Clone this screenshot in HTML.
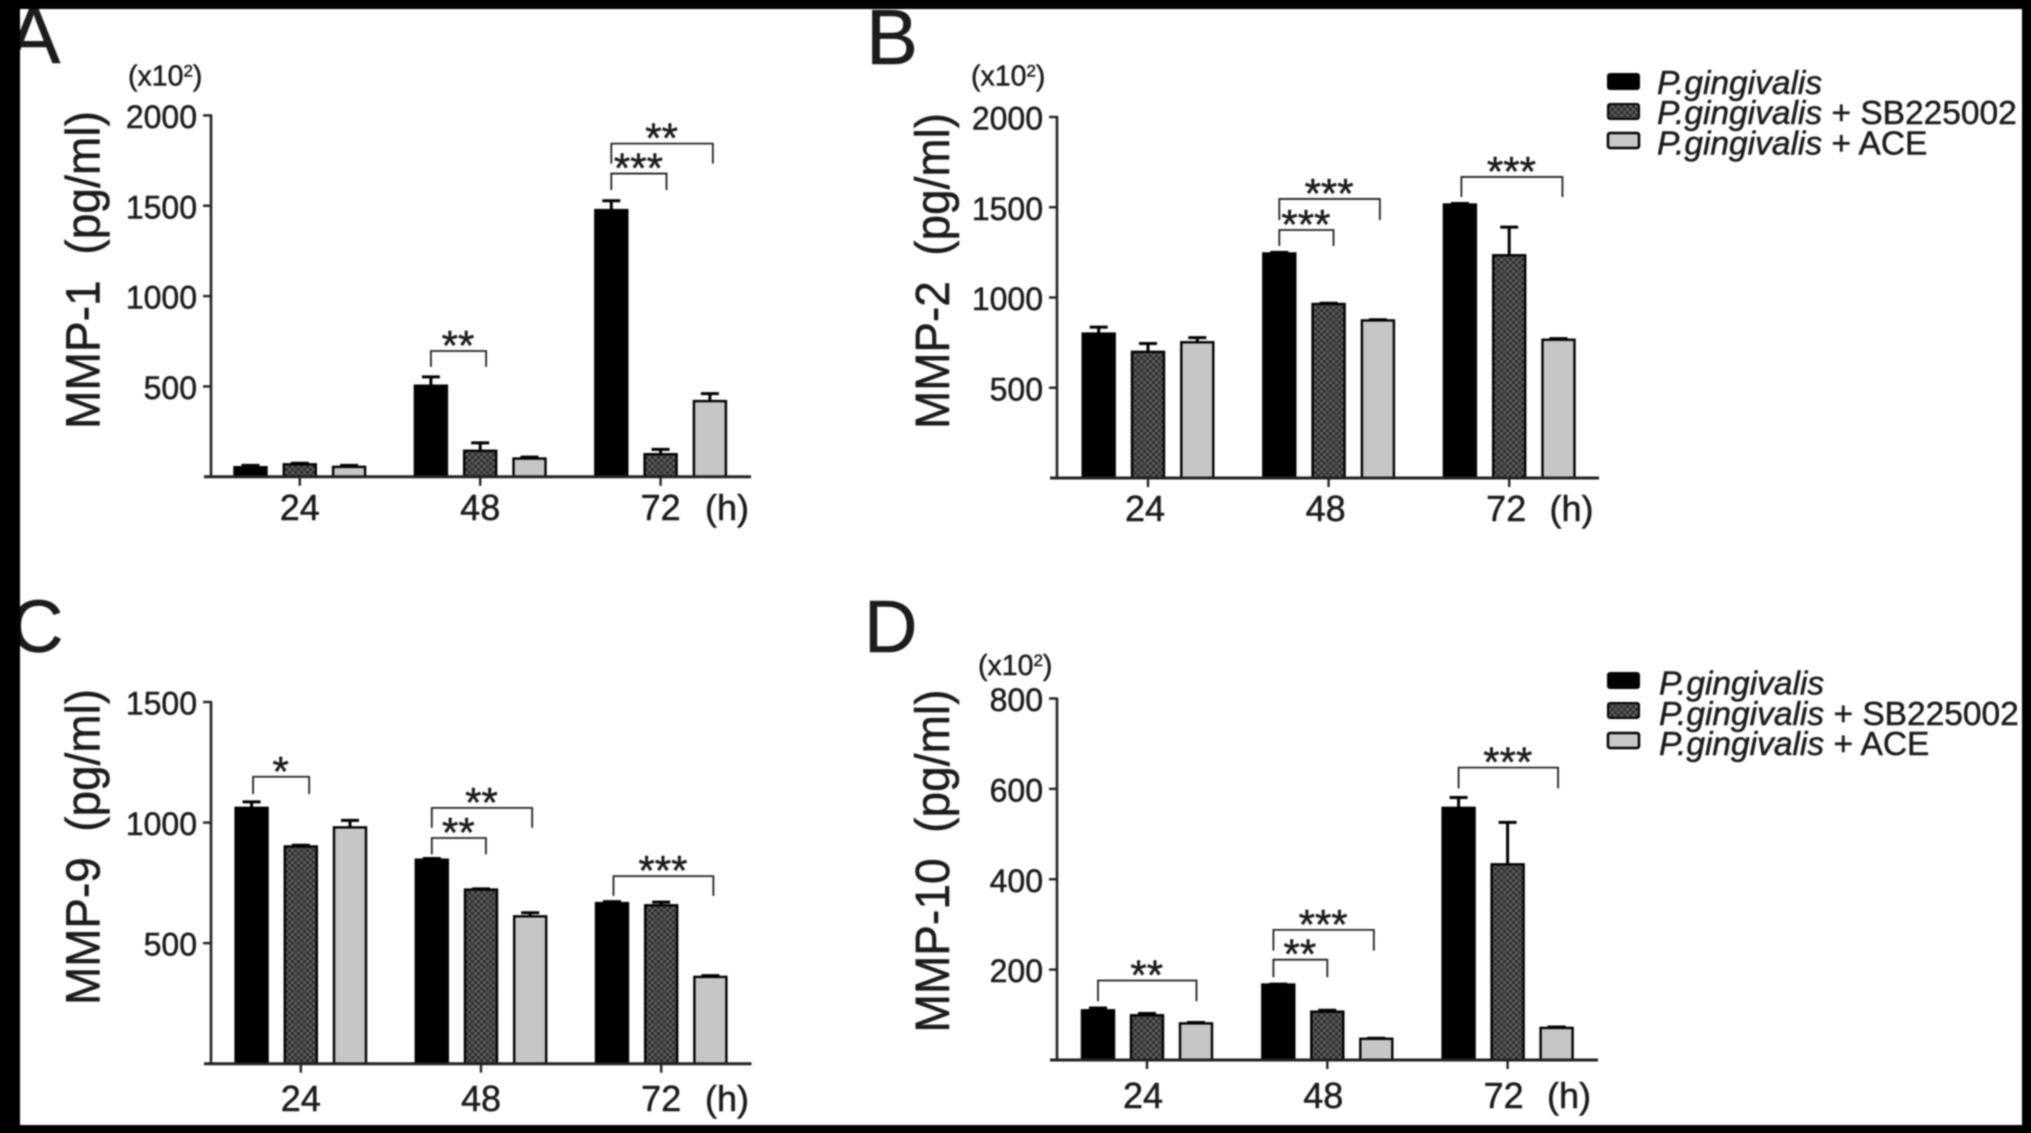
<!DOCTYPE html>
<html lang="en">
<head>
<meta charset="utf-8">
<title>MMP expression bar charts</title>
<style>
html,body{margin:0;padding:0;background:#000;width:2031px;height:1133px;overflow:hidden}
svg{display:block;filter:blur(0.7px)}
text{font-family:"Liberation Sans",sans-serif;fill:#1c1c1c;stroke:#1c1c1c;stroke-width:0.5px}
</style>
</head>
<body>
<svg id="figure" xmlns="http://www.w3.org/2000/svg" width="2031" height="1133" viewBox="0 0 2031 1133">
  <defs>
    <pattern id="hatch" width="6" height="6" patternUnits="userSpaceOnUse">
      <rect width="6" height="6" fill="#2e2e2e"/>
      <rect width="3" height="3" fill="#5c5c5c"/>
      <rect x="3" y="3" width="3" height="3" fill="#5c5c5c"/>
    </pattern>
  </defs>
  <rect x="20" y="9" width="2002" height="1116" fill="#ffffff"/>

  <text x="7" y="63" font-size="80">A</text>
  <text x="866" y="64" font-size="78">B</text>
  <text x="10" y="652" font-size="74">C</text>
  <text x="864" y="652" font-size="74">D</text>

  <g id="plots"></g>

  <g>
    <rect x="1608" y="74" width="31" height="15" rx="2" fill="#000" stroke="#000" stroke-width="2"/>
    <text x="1657" y="93.8" font-size="33.5"><tspan font-style="italic">P.gingivalis</tspan></text>
    <rect x="1608" y="104" width="31" height="15" rx="2" fill="url(#hatch)" stroke="#000" stroke-width="2"/>
    <text x="1657" y="124" font-size="33.5"><tspan font-style="italic">P.gingivalis</tspan> + SB225002</text>
    <rect x="1608" y="133" width="31" height="15" rx="2" fill="#c8c8c8" stroke="#000" stroke-width="2.5"/>
    <text x="1657" y="154.4" font-size="33.5"><tspan font-style="italic">P.gingivalis</tspan> + ACE</text>
  </g>
  <g>
    <rect x="1608" y="673" width="31" height="15" rx="2" fill="#000" stroke="#000" stroke-width="2"/>
    <text x="1659" y="694.6" font-size="33.5"><tspan font-style="italic">P.gingivalis</tspan></text>
    <rect x="1608" y="703" width="31" height="15" rx="2" fill="url(#hatch)" stroke="#000" stroke-width="2"/>
    <text x="1659" y="725" font-size="33.5"><tspan font-style="italic">P.gingivalis</tspan> + SB225002</text>
    <rect x="1608" y="733" width="31" height="15" rx="2" fill="#c8c8c8" stroke="#000" stroke-width="2.5"/>
    <text x="1659" y="755.2" font-size="33.5"><tspan font-style="italic">P.gingivalis</tspan> + ACE</text>
  </g>

  <g fill="#000">
    <rect x="0" y="0" width="2031" height="9"/>
    <rect x="0" y="1125" width="2031" height="8"/>
    <rect x="0" y="0" width="20" height="1133"/>
    <rect x="2022" y="0" width="9" height="1133"/>
  </g>
</svg>

<script>
// Shared categories
const categories = ["24", "48", "72"];
const seriesNames = ["pg", "pg-sb", "pg-ace"];

// MMP-1: values per series, [24, 48, 72]
const mmp1Pg = [53, 504, 1476];
const mmp1Sb = [69, 144, 125];
const mmp1Ace = [55, 101, 419];
const mmp1PgTop = [63, 553, 1528];
const mmp1SbTop = [75, 188, 152];
const mmp1AceTop = [63, 109, 460];
const mmp1Ticks = [500, 1000, 1500, 2000];
// [group, fromSeries, toSeries, levelValue, legEndValue, stars]
const mmp1Brackets = [
  [1, 0, 1.12, 696, 608, "**"],
  [2, 0, 1.12, 1678, 1587, "***"],
  [2, 0, 2.06, 1844, 1733, "**"]
];

// MMP-2
const mmp2Pg = [800, 1244, 1515];
const mmp2Sb = [699, 964, 1234];
const mmp2Ace = [752, 873, 766];
const mmp2PgTop = [836, 1250, 1521];
const mmp2SbTop = [745, 968, 1390];
const mmp2AceTop = [778, 877, 772];
const mmp2Ticks = [500, 1000, 1500, 2000];
const mmp2Brackets = [
  [1, 0, 1.1, 1374, 1285, "***"],
  [1, 0, 2.04, 1546, 1429, "***"],
  [2, 0.03, 2.08, 1668, 1557, "***"]
];

// MMP-9
const mmp9Pg = [1061, 846, 666];
const mmp9Sb = [901, 722, 657];
const mmp9Ace = [980, 611, 360];
const mmp9PgTop = [1086, 851, 672];
const mmp9SbTop = [906, 725, 670];
const mmp9AceTop = [1009, 626, 365];
const mmp9Ticks = [500, 1000, 1500];
const mmp9Brackets = [
  [0, 0.03, 1.17, 1190, 1118, "*"],
  [1, 0, 1.1, 936, 868, "**"],
  [1, 0, 2.04, 1061, 978, "**"],
  [2, 0.03, 2.06, 778, 696, "***"]
];

// MMP-10
const mmp10Pg = [110, 167, 558];
const mmp10Sb = [99, 107, 433];
const mmp10Ace = [81, 47, 71];
const mmp10PgTop = [115, 168, 581];
const mmp10SbTop = [103, 110, 526];
const mmp10AceTop = [83, 48, 73];
const mmp10Ticks = [200, 400, 600, 800];
const mmp10Brackets = [
  [0, 0, 2.01, 176, 130, "**"],
  [1, -0.1, 1, 222, 183, "**"],
  [1, -0.1, 1.95, 288, 242, "***"],
  [2, 0, 2.03, 647, 601, "***"]
];

const NS = "http://www.w3.org/2000/svg";
const plots = document.getElementById("plots");

function mk(tag, attrs, parent) {
  const el = document.createElementNS(NS, tag);
  for (const k in attrs) el.setAttribute(k, attrs[k]);
  parent.appendChild(el);
  return el;
}

function drawPanel(cfg) {
  const g = mk("g", {}, plots);
  
  

  const yScale = v => cfg.y0 - (v / cfg.yMax) * (cfg.y0 - cfg.yTop);
  const groupX = i => cfg.first + i * cfg.groupStep;
  const seriesX = (i, s) => groupX(i) + (s - 1) * cfg.spacing;

  // y axis title
  const title = mk("text", {
    x: cfg.titleX, y: cfg.titleY, "font-size": 48, "text-anchor": "middle",
    textLength: cfg.titleLen, lengthAdjust: "spacingAndGlyphs",
    transform: "rotate(-90 " + cfg.titleX + " " + cfg.titleY + ")"
  }, g);
  
  
  title.textContent = cfg.title;

  // multiplier
  if (cfg.multX !== null) {
    const mult = mk("text", { x: cfg.multX, y: cfg.multY, "font-size": 28.5 }, g);
    
    
    mult.textContent = "(x10";
    const sup = mk("tspan", { dy: -9, "font-size": 17 }, mult);
    sup.textContent = "2";
    const close = mk("tspan", { dy: 9 }, mult);
    close.textContent = ")";
  }

  // bars
  const fills = ["#000000", "url(#hatch)", "#c6c6c6"];
  const barW = 32;
  cfg.values.forEach((vals, s) => {
    vals.forEach((v, i) => {
      const cx = seriesX(i, s);
      const top = yScale(cfg.tops[s][i]);
      const yv = yScale(v);
      const stem = mk("line", { x1: cx, x2: cx, y1: top, y2: yv, stroke: "#000", "stroke-width": 3 }, g);
      
      
      const cap = mk("line", { x1: cx - 9, x2: cx + 9, y1: top, y2: top, stroke: "#000", "stroke-width": 3 }, g);
      
      
      const bar = mk("rect", {
        x: cx - barW / 2, y: yv, width: barW, height: cfg.y0 - yv,
        fill: fills[s], stroke: "#000", "stroke-width": 2.4
      }, g);
      
      
    });
  });

  // axes
  const yAxis = mk("line", { x1: cfg.x0, x2: cfg.x0, y1: cfg.yTop - 1, y2: cfg.y0, stroke: "#222", "stroke-width": 2.6 }, g);
  
  
  const xAxis = mk("line", { x1: cfg.x0 - 7, x2: cfg.xEnd, y1: cfg.y0, y2: cfg.y0, stroke: "#222", "stroke-width": 3 }, g);
  
  

  // y ticks
  cfg.ticks.forEach(t => {
    const y = yScale(t);
    const tick = mk("line", { x1: cfg.x0 - 8, x2: cfg.x0, y1: y, y2: y, stroke: "#222", "stroke-width": 2.4 }, g);
    
    
    const lab = mk("text", { x: cfg.x0 - 14, y: y + 12.5, "font-size": 32, "text-anchor": "end" }, g);
    
    
    lab.textContent = t;
  });

  // x ticks
  categories.forEach((c, i) => {
    const x = groupX(i);
    const tick = mk("line", { x1: x, x2: x, y1: cfg.y0, y2: cfg.y0 + 9, stroke: "#222", "stroke-width": 2.4 }, g);
    
    
    const lab = mk("text", { x: x - cfg.labelShift, y: cfg.labelY, "font-size": 36, "text-anchor": "middle" }, g);
    
    
    lab.textContent = c;
  });
  const unit = mk("text", { x: cfg.unitX, y: cfg.labelY, "font-size": 36, "text-anchor": "middle" }, g);
  
  
  unit.textContent = "(h)";

  // significance brackets
  cfg.brackets.forEach(b => {
    const xa = seriesX(b[0], b[1]);
    const xb = seriesX(b[0], b[2]);
    const yl = yScale(b[3]);
    const ye = yScale(b[4]);
    const path = mk("path", {
      d: "M" + xa + " " + ye + "V" + yl + "H" + xb + "V" + ye,
      fill: "none", stroke: "#222", "stroke-width": 1.8
    }, g);
    
    
    const star = mk("text", { x: (xa + xb) / 2 - 0.5, y: yl + 9, "font-size": 42, "text-anchor": "middle" }, g);
    
    
    star.textContent = b[5];
  });
}

drawPanel({
  name: "chart-mmp-1", title: "MMP-1\u00a0 (pg/ml)", titleX: 99.5, titleY: 270, titleLen: 318,
  multX: 128, multY: 85.5, x0: 211, xEnd: 751, y0: 476.8, yTop: 115.4, yMax: 2000,
  first: 299.8, groupStep: 180.4, spacing: 49.3, labelY: 520, labelShift: 0, unitX: 727,
  values: [mmp1Pg, mmp1Sb, mmp1Ace], tops: [mmp1PgTop, mmp1SbTop, mmp1AceTop],
  ticks: mmp1Ticks, brackets: mmp1Brackets
});
drawPanel({
  name: "chart-mmp-2", title: "MMP-2\u00a0 (pg/ml)", titleX: 949, titleY: 271, titleLen: 316,
  multX: 971, multY: 85.5, x0: 1057, xEnd: 1599, y0: 478, yTop: 117, yMax: 2000,
  first: 1148, groupStep: 180.6, spacing: 49.3, labelY: 521, labelShift: 3, unitX: 1571.5,
  values: [mmp2Pg, mmp2Sb, mmp2Ace], tops: [mmp2PgTop, mmp2SbTop, mmp2AceTop],
  ticks: mmp2Ticks, brackets: mmp2Brackets
});
drawPanel({
  name: "chart-mmp-9", title: "MMP-9\u00a0 (pg/ml)", titleX: 99.5, titleY: 847, titleLen: 316,
  multX: null, multY: null, x0: 211, xEnd: 751.5, y0: 1063.7, yTop: 702, yMax: 1500,
  first: 300.8, groupStep: 180.2, spacing: 49.2, labelY: 1111, labelShift: 0, unitX: 727,
  values: [mmp9Pg, mmp9Sb, mmp9Ace], tops: [mmp9PgTop, mmp9SbTop, mmp9AceTop],
  ticks: mmp9Ticks, brackets: mmp9Brackets
});
drawPanel({
  name: "chart-mmp-10", title: "MMP-10\u00a0 (pg/ml)", titleX: 949, titleY: 861, titleLen: 343,
  multX: 978, multY: 675, x0: 1057, xEnd: 1598, y0: 1060, yTop: 698.5, yMax: 800,
  first: 1147, groupStep: 180.3, spacing: 49, labelY: 1108, labelShift: 4, unitX: 1569,
  values: [mmp10Pg, mmp10Sb, mmp10Ace], tops: [mmp10PgTop, mmp10SbTop, mmp10AceTop],
  ticks: mmp10Ticks, brackets: mmp10Brackets
});
</script>
</body>
</html>
